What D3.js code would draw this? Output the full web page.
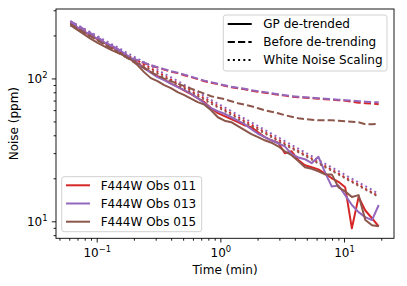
<!DOCTYPE html>
<html><head><meta charset="utf-8">
<script src="https://cdn.jsdelivr.net/npm/d3@7"></script>
<style>
body{margin:0;background:#fff}
svg{display:block}
text{font-family:"DejaVu Sans",sans-serif;fill:#000}
</style>
</head><body>
<svg id="chart" width="407" height="286"></svg>
<script>
// ---- data ----
const times = [0.0613,0.0694,0.0787,0.0891,0.1010,0.1144,0.1296,0.1468,0.1663,0.1884,
  0.2135,0.2418,0.2740,0.3104,0.3516,0.3984,0.4513,0.5113,0.5793,0.6562,
  0.7435,0.8423,0.9541,1.081,1.225,1.387,1.572,1.781,2.017,2.286,
  2.589,2.934,3.323,3.765,4.265,4.832,5.474,6.202,7.026,7.960,
  9.018,10.22,11.57,13.11,14.86,16.83,19.07];

const obs011_gp = [244.1,227.0,212.8,199.5,188.5,178.2,168.4,159.2,148.0,137.7,
  128.0,119.1,110.7,103.8,98.1,91.9,87.6,82.1,77.6,72.8,
  68.2,61.9,57.1,54.4,51.9,49.4,47.0,45.6,42.0,38.8,
  36.9,35.5,29.9,30.9,26.8,24.7,23.9,23.1,21.6,20.0,
  18.9,17.3,8.93,14.8,11.9,10.5,9.22];
const obs013_gp = [248.1,228.9,214.5,201.1,190.1,179.6,171.1,161.8,150.4,138.8,
  127.0,118.1,109.8,102.1,97.3,91.9,86.9,82.8,78.3,72.8,
  67.1,61.9,58.9,56.6,53.5,50.6,47.8,44.1,41.0,38.8,
  36.9,35.2,33.5,29.5,28.0,27.2,25.5,28.3,22.0,17.5,
  17.8,15.25,13.0,11.6,10.7,10.2,13.0];
const obs015_gp = [236.4,219.8,204.4,190.1,178.2,168.4,159.2,151.7,144.5,135.5,
  124.0,110.7,100.5,95.7,89.7,85.5,80.2,76.4,72.2,68.2,
  65.5,59.9,53.5,50.6,49.4,46.3,43.4,40.7,38.8,36.9,
  35.5,33.5,30.9,29.0,26.4,23.9,23.3,22.4,21.3,21.3,
  17.3,16.2,14.8,15.25,10.2,9.38,9.22];

const obs011_raw = [250.2,234.5,219.8,206.0,193.0,179.6,167.1,156.6,146.8,138.8,
  133.3,128.0,123.0,119.0,115.3,111.6,108.9,105.4,102.1,98.9,
  95.7,93.4,91.2,89.0,86.9,85.5,84.1,82.1,80.8,79.5,
  78.3,77.0,75.8,74.5,73.9,73.3,72.7,72.2,71.6,71.0,
  70.4,69.9,68.8,67.7,67.1,66.6,66.0];
const obs013_raw = [252.2,236.4,221.6,207.7,194.6,181.1,168.4,157.9,148.0,139.9,
  134.4,129.1,124.0,120.0,116.2,112.5,109.8,106.3,103.0,99.7,
  96.5,94.2,91.9,89.7,87.6,86.2,84.8,82.8,81.5,80.2,
  78.9,77.6,76.4,75.1,74.5,73.9,73.3,72.8,72.2,71.6,
  71.0,70.4,69.9,69.3,68.8,68.2,68.2];
const obs015_raw = [240.3,225.2,211.1,197.8,185.5,173.9,163.1,152.9,143.3,134.4,
  126.0,118.1,110.7,104.6,99.7,95.7,91.9,88.3,84.8,81.5,
  78.3,75.1,73.3,71.6,69.3,67.1,65.5,63.9,61.9,59.9,
  58.5,57.1,55.3,54.0,52.7,51.9,51.4,51.0,51.0,51.0,
  50.6,50.2,49.8,49.4,47.8,47.8,48.2];

// white-noise scaling lines are straight in log-log: first and last bin
const wnTimes = [0.0613, 19.07];
const obs011_wn = [244.1, 15.0];
const obs013_wn = [252.2, 15.6];
const obs015_wn = [236.4, 14.8];

const seriesNames = ["F444W Obs 011","F444W Obs 013","F444W Obs 015"];
const seriesColors = ["#d62728","#9467bd","#8c564b"];
const styleNames = ["GP de-trended","Before de-trending","White Noise Scaling"];

const xMajor = [0.1, 1, 10];
const xMajorExp = ["\u22121","0","1"];
const xMinor = [0.05,0.06,0.07,0.08,0.09,0.2,0.3,0.4,0.5,0.6,0.7,0.8,0.9,2,3,4,5,6,7,8,9,20];
const yMajor = [10, 100];
const yMajorExp = ["1","2"];
const yMinor = [8,9,20,30,40,50,60,70,80,90,200,300];

// ---- layout ----
const L = 56, R = 394, T = 9, B = 238.3;
const FS = 12;
const svg = d3.select("#chart");
const x = d3.scaleLog().domain([Math.pow(10,-1.329), Math.pow(10,1.404)]).range([L, R]);
const y = d3.scaleLog().domain([Math.pow(10,0.881), Math.pow(10,2.486)]).range([B, T]);

svg.append("defs").append("clipPath").attr("id","clip")
  .append("rect").attr("x",L).attr("y",T).attr("width",R-L).attr("height",B-T);

const LW = 2.0;
const dashed = "7.2,3.1";
const dotted = "2,3.2";

const line = d3.line().x((d)=>x(d[0])).y((d)=>y(d[1]));
const plot = svg.append("g").attr("clip-path","url(#clip)");

const gp = [obs011_gp, obs013_gp, obs015_gp];
const raw = [obs011_raw, obs013_raw, obs015_raw];
const wn = [obs011_wn, obs013_wn, obs015_wn];

for (let k = 0; k < 3; k++) {
  plot.append("path").attr("d", line(times.map((t,i)=>[t, gp[k][i]])))
    .attr("fill","none").attr("stroke",seriesColors[k]).attr("stroke-width",LW)
    .attr("stroke-linejoin","round").attr("stroke-linecap","butt");
  plot.append("path").attr("d", line(times.map((t,i)=>[t, raw[k][i]])))
    .attr("fill","none").attr("stroke",seriesColors[k]).attr("stroke-width",LW)
    .attr("stroke-dasharray",dashed);
  plot.append("path").attr("d", line(wnTimes.map((t,i)=>[t, wn[k][i]])))
    .attr("fill","none").attr("stroke",seriesColors[k]).attr("stroke-width",LW)
    .attr("stroke-dasharray",dotted);
}

// ---- axes ----
const gx = svg.append("g").attr("transform",`translate(0,${B})`);
gx.call(d3.axisBottom(x).tickValues(xMajor).tickSize(4.2).tickFormat(()=>""));
gx.append("g").call(d3.axisBottom(x).tickValues(xMinor).tickSize(2.4).tickFormat(()=>""));
gx.selectAll(".domain").remove();
gx.selectAll(".tick line").attr("stroke","#000").attr("stroke-width",0.9);
gx.selectAll(".tick").filter((d)=>xMajor.includes(d)).each(function(d){
  const i = xMajor.indexOf(d);
  const t = d3.select(this).select("text");
  t.attr("y",18.3).attr("dy",null).attr("font-size",FS).attr("text-anchor","middle").text(null);
  t.append("tspan").text("10");
  t.append("tspan").attr("dy",-5).attr("font-size",FS*0.7).text(xMajorExp[i]);
});

const gy = svg.append("g").attr("transform",`translate(${L},0)`);
gy.call(d3.axisLeft(y).tickValues(yMajor).tickSize(4.2).tickFormat(()=>""));
gy.append("g").call(d3.axisLeft(y).tickValues(yMinor).tickSize(2.4).tickFormat(()=>""));
gy.selectAll(".domain").remove();
gy.selectAll(".tick line").attr("stroke","#000").attr("stroke-width",0.9);
gy.selectAll(".tick").filter((d)=>yMajor.includes(d)).each(function(d){
  const i = yMajor.indexOf(d);
  const t = d3.select(this).select("text");
  t.attr("x",-8.4).attr("dy",null).attr("y",4.2).attr("font-size",FS).attr("text-anchor","end").text(null);
  t.append("tspan").text("10");
  t.append("tspan").attr("dy",-5).attr("font-size",FS*0.7).text(yMajorExp[i]);
});

// frame
svg.append("rect").attr("x",L).attr("y",T).attr("width",R-L).attr("height",B-T)
  .attr("fill","none").attr("stroke","#000").attr("stroke-width",0.9);

// axis labels
svg.append("text").attr("x",(L+R)/2).attr("y",273.5).attr("text-anchor","middle")
  .attr("font-size",FS).text("Time (min)");
svg.append("text").attr("transform",`translate(17.6,${(T+B)/2}) rotate(-90)`)
  .attr("text-anchor","middle").attr("font-size",FS).text("Noise (ppm)");

// ---- legends ----
function legendBox(x0,y0,w,h){
  svg.append("rect").attr("x",x0).attr("y",y0).attr("width",w).attr("height",h)
    .attr("rx",2.5).attr("fill","#fff").attr("fill-opacity",0.8)
    .attr("stroke","#cccccc").attr("stroke-width",0.9);
}
// style legend (upper right)
legendBox(223.3,15,163.7,56);
const styleDash = [null, dashed, dotted];
styleNames.forEach((s,i)=>{
  const cy = 24 + i*18;
  svg.append("line").attr("x1",227.7).attr("x2",251.7).attr("y1",cy).attr("y2",cy)
    .attr("stroke","#000").attr("stroke-width",LW).attr("stroke-dasharray",styleDash[i]);
  svg.append("text").attr("x",263.3).attr("y",cy+4.3).attr("font-size",FS).text(s);
});
// colour legend (lower left)
legendBox(61.7,176.7,140,55);
seriesNames.forEach((s,i)=>{
  const cy = 185.3 + i*18.2;
  svg.append("line").attr("x1",66).attr("x2",90).attr("y1",cy).attr("y2",cy)
    .attr("stroke",seriesColors[i]).attr("stroke-width",LW);
  svg.append("text").attr("x",100.7).attr("y",cy+4.3).attr("font-size",FS).text(s);
});
</script>
</body></html>
